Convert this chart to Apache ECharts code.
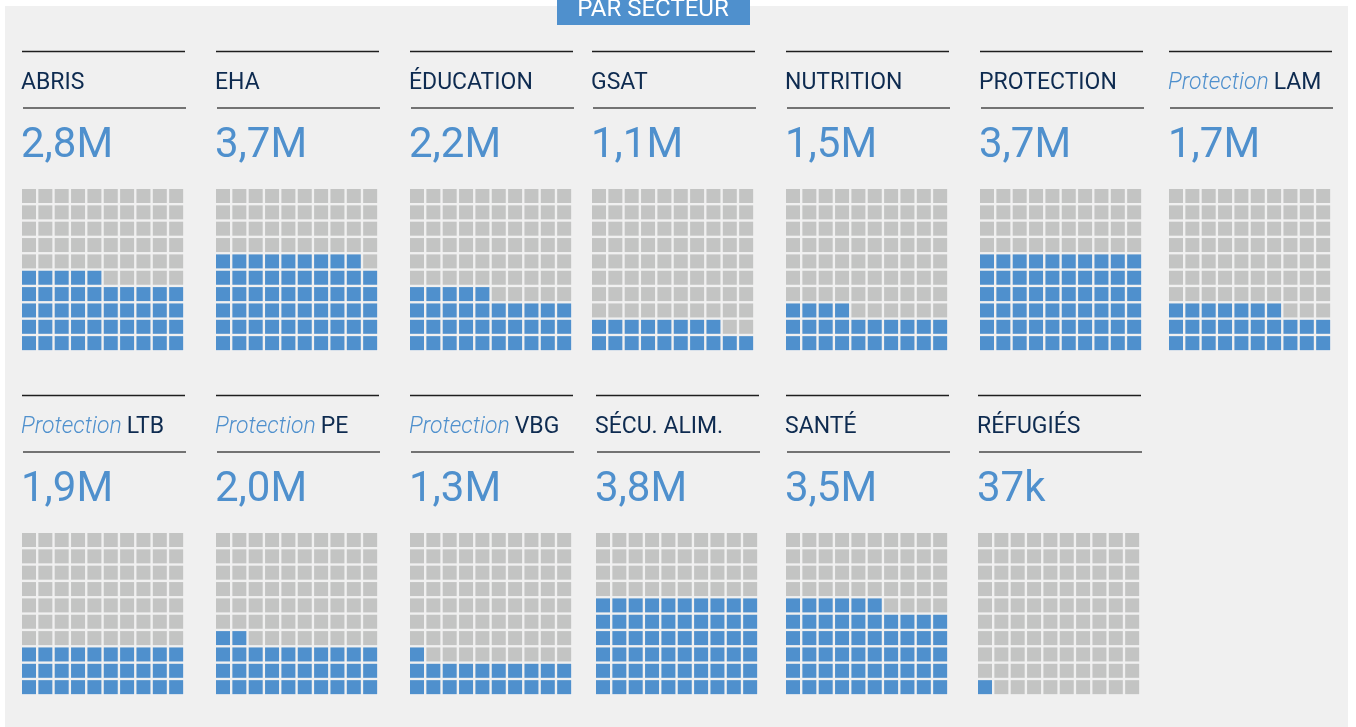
<!DOCTYPE html>
<html>
<head>
<meta charset="utf-8">
<script src="https://cdn.jsdelivr.net/npm/echarts@6/dist/echarts.min.js"></script>
<style>
  html, body { margin: 0; padding: 0; background: #fff; }
  #chart { width: 1356px; height: 727px; }
</style>
</head>
<body>
<div id="chart"></div>
<script>
// data
const prefixes = ['', '', '', '', '', '', 'Protection', 'Protection', 'Protection', 'Protection', '', '', ''];
const sectors = ['ABRIS', 'EHA', 'ÉDUCATION', 'GSAT', 'NUTRITION', 'PROTECTION', 'LAM', 'LTB', 'PE', 'VBG', 'SÉCU. ALIM.', 'SANTÉ', 'RÉFUGIÉS'];
const valueLabels = ['2,8M', '3,7M', '2,2M', '1,1M', '1,5M', '3,7M', '1,7M', '1,9M', '2,0M', '1,3M', '3,8M', '3,5M', '37k'];
const filledCells = [45, 59, 35, 18, 24, 60, 27, 30, 32, 21, 60, 56, 1];
const cellIndex = ['0', '1', '2', '3', '4', '5', '6', '7', '8', '9'];

// layout
const panelX = [22, 216, 410, 592, 786, 980, 1169, 22, 216, 410, 596, 786, 978];
const rowShift = 344;
const FONT = "Roboto, sans-serif";
const BLUE = '#4f90cd';
const GREY = '#c3c4c3';
const NAVY = '#0e2b50';

const chart = echarts.init(document.getElementById('chart'));

const grids = [], xAxes = [], yAxes = [], series = [], titles = [];
const graphics = [
  { type: 'rect', shape: { x: 5, y: 6, width: 1343, height: 730 }, style: { fill: '#f0f0f0' }, z: -10 },
  { type: 'rect', shape: { x: 557, y: 0, width: 193, height: 25 }, style: { fill: BLUE }, z: 5 },
  { type: 'text', x: 653, y: 10, style: { text: 'PAR SECTEUR', fill: '#fff', font: '24px ' + FONT, textAlign: 'center', textVerticalAlign: 'middle' }, z: 6 }
];

sectors.forEach((name, i) => {
  const x = panelX[i];
  const dy = i < 7 ? 0 : rowShift;
  const pitch = 16.35;
  const cell = 14;

  grids.push({ left: x - (pitch - cell) / 2, top: 189 + dy - (pitch - cell) / 2, width: pitch * 10, height: pitch * 10 });
  xAxes.push({ type: 'category', gridIndex: i, data: cellIndex, show: false });
  yAxes.push({ type: 'category', gridIndex: i, data: cellIndex, show: false });

  const filled = [], empty = [];
  for (let k = 0; k < 100; k++) {
    const pt = [cellIndex[k % 10], cellIndex[Math.floor(k / 10)]];
    (k < filledCells[i] ? filled : empty).push(pt);
  }
  const base = { type: 'scatter', xAxisIndex: i, yAxisIndex: i, symbol: 'rect', symbolSize: cell, silent: true, animation: false };
  series.push(Object.assign({}, base, { data: empty, itemStyle: { color: GREY, opacity: 1 } }));
  series.push(Object.assign({}, base, { data: filled, itemStyle: { color: BLUE, opacity: 1 } }));

  const head = prefixes[i] ? '{p|' + prefixes[i] + '} {n|' + name + '}' : '{n|' + name + '}';
  titles.push({
    left: x - 1, top: 68 + dy, padding: 0,
    text: head,
    textStyle: {
      fontWeight: 'normal',
      rich: {
        n: { fontFamily: FONT, fontSize: 23, fontWeight: 'normal', color: NAVY, lineHeight: 30 },
        p: { fontFamily: FONT, fontSize: 23, color: BLUE, fontStyle: 'italic', fontWeight: 300, lineHeight: 30 }
      }
    }
  });
  titles.push({
    left: x - 1, top: 121 + dy, padding: 0,
    text: valueLabels[i],
    textStyle: { fontFamily: FONT, fontSize: 42, fontWeight: 'normal', color: BLUE, lineHeight: 50 }
  });

  graphics.push({ type: 'line', shape: { x1: x, y1: 51.5 + dy, x2: x + 163, y2: 51.5 + dy }, style: { stroke: '#1e1e1e', lineWidth: 1.3 } });
  graphics.push({ type: 'line', shape: { x1: x + 1, y1: 108 + dy, x2: x + 164, y2: 108 + dy }, style: { stroke: '#4a4a4a', lineWidth: 1.3 } });
});

chart.setOption({
  backgroundColor: '#ffffff',
  animation: false,
  title: titles,
  grid: grids,
  xAxis: xAxes,
  yAxis: yAxes,
  series: series,
  graphic: graphics
});

window.addEventListener('resize', () => chart.resize());
</script>
</body>
</html>
